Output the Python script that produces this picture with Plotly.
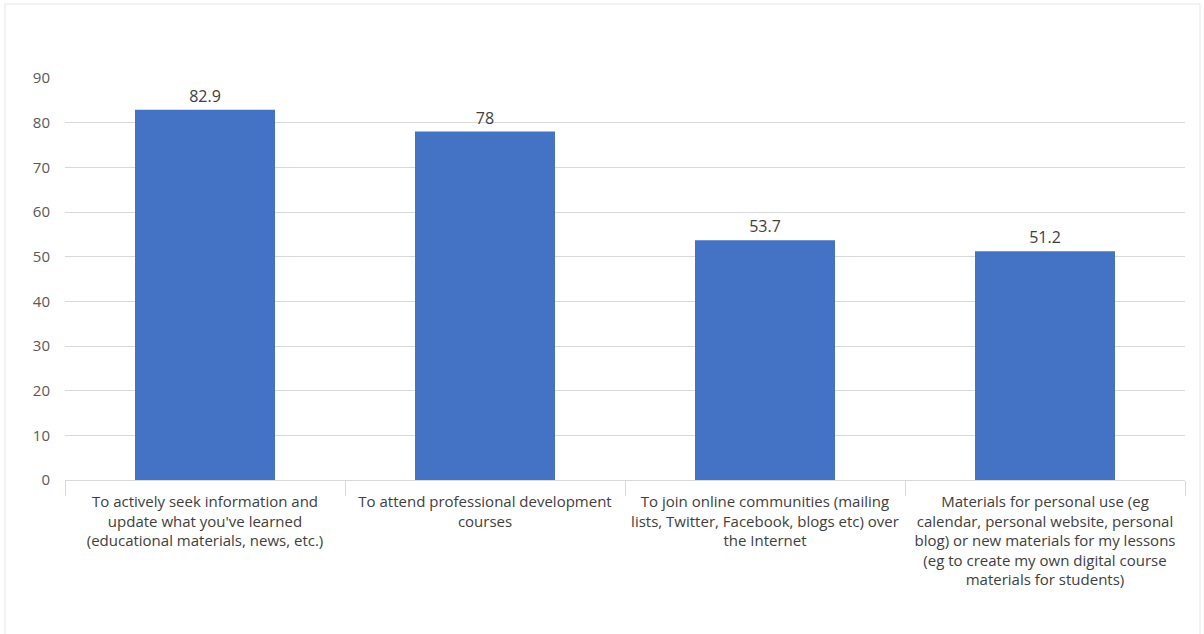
import plotly.graph_objects as go

categories = [
    "To actively seek information and<br>update what you've learned<br>(educational materials, news, etc.)",
    "To attend professional development<br>courses",
    "To join online communities (mailing<br>lists, Twitter, Facebook, blogs etc) over<br>the Internet",
    "Materials for personal use (eg<br>calendar, personal website, personal<br>blog) or new materials for my lessons<br>(eg to create my own digital course<br>materials for students)",
]
values = [82.9, 78, 53.7, 51.2]
value_labels = ["82.9", "78", "53.7", "51.2"]
y_ticks = [0, 10, 20, 30, 40, 50, 60, 70, 80, 90]

fig = go.Figure(
    go.Bar(
        x=categories,
        y=values,
        text=value_labels,
        textposition="outside",
        cliponaxis=False,
        marker=dict(color="#4472C4", line=dict(width=0)),
        textfont=dict(size=16, color="#404040"),
    )
)

fig.update_layout(
    width=1204,
    height=634,
    margin=dict(l=65, r=19, t=78, b=154),
    paper_bgcolor="white",
    plot_bgcolor="white",
    bargap=0.5,
    showlegend=False,
    font=dict(family="Open Sans, Liberation Sans, sans-serif", color="#404040"),
    xaxis=dict(
        type="category",
        showgrid=False,
        showline=True,
        linecolor="#d9d9d9",
        linewidth=1,
        ticks="outside",
        tickson="boundaries",
        ticklen=15,
        tickcolor="#d9d9d9",
        ticklabelstandoff=8,
        tickfont=dict(size=15, color="#404040"),
    ),
    yaxis=dict(
        range=[0, 90],
        tickvals=y_ticks,
        showgrid=True,
        gridcolor="#d9d9d9",
        gridwidth=1,
        zeroline=False,
        showline=False,
        ticks="",
        ticklabelstandoff=14,
        tickfont=dict(size=15, color="#595959"),
    ),
    shapes=[
        dict(
            type="rect",
            xref="paper",
            yref="paper",
            x0=-0.0536,
            x1=1.0134,
            y0=-0.45,
            y1=1.184,
            line=dict(color="#e6e6e6", width=1),
            fillcolor="rgba(0,0,0,0)",
        )
    ],
)

fig.write_html("out.html")
